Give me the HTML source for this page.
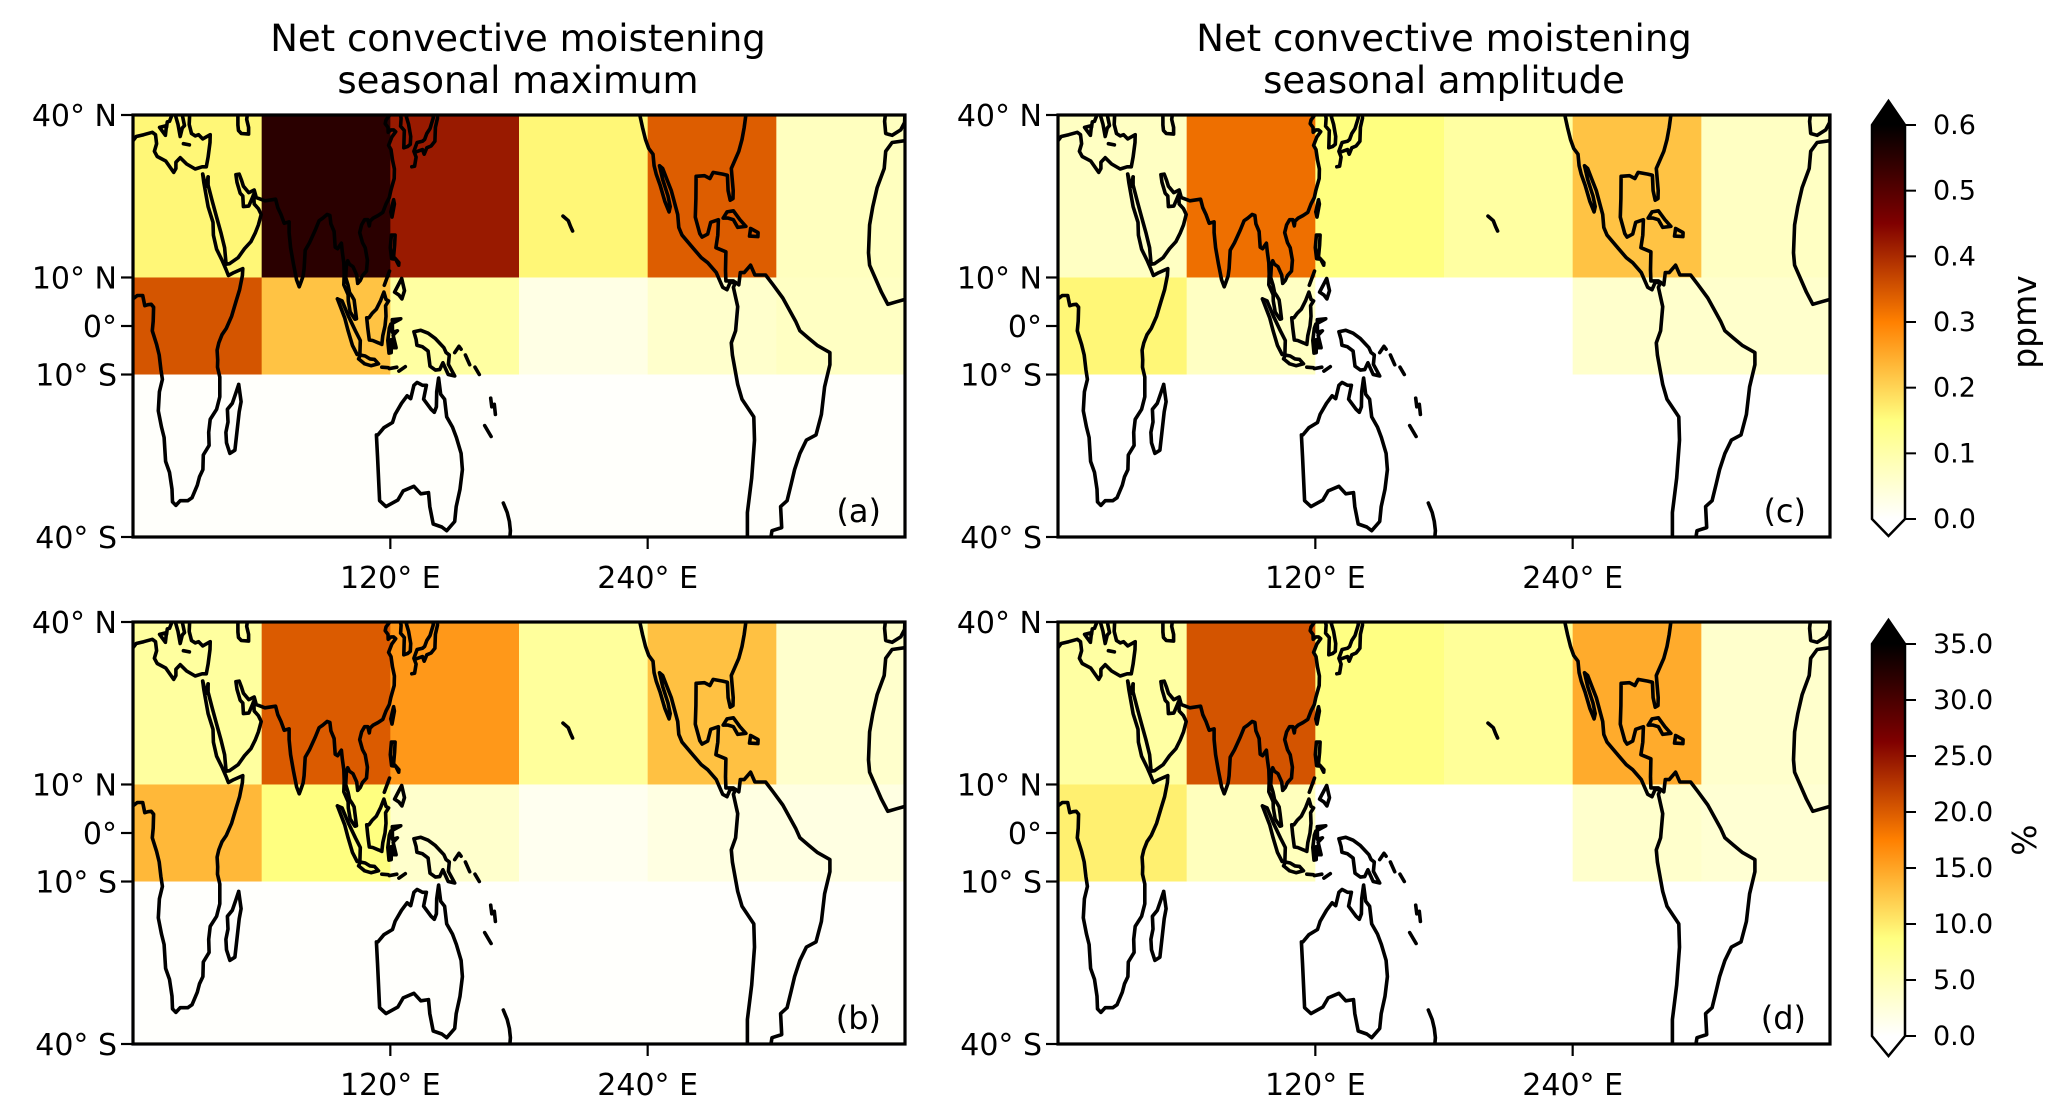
<!DOCTYPE html>
<html><head><meta charset="utf-8">
<style>
html,body{margin:0;padding:0;background:#fff;}
svg{display:block;}
text{font-family:"DejaVu Sans","Liberation Sans",sans-serif;fill:#000;}
</style></head>
<body>
<svg id="fig" width="2068" height="1119" viewBox="0 0 2068 1119" xmlns="http://www.w3.org/2000/svg">
<defs id="defs"></defs>
</svg>
<script>
// ---- data ----
const lonEdges = [0, 60, 120, 180, 240, 300, 360];
const latEdges = [40, 10, -10, -40];
const valuesA = [
  [0.16, 0.55, 0.42, 0.16, 0.34, 0.075],
  [0.35, 0.22, 0.11, 0.03, 0.06, 0.07],
  [0.005, 0.005, 0.005, 0.005, 0.005, 0.005]
];
const valuesC = [
  [0.07, 0.32, 0.15, 0.11, 0.22, 0.07],
  [0.16, 0.07, 0.0, 0.0, 0.06, 0.06],
  [0.0, 0.0, 0.0, 0.0, 0.0, 0.0]
];
const valuesB = [
  [6.6, 20, 15.8, 6.8, 13, 3.5],
  [13.6, 8.7, 3.5, 1, 2, 2],
  [0.2, 0.2, 0.2, 0.2, 0.2, 0.2]
];
const valuesD = [
  [6.3, 20.5, 8.5, 7.0, 14.5, 3.5],
  [9.8, 4.5, 0, 0, 3.5, 3],
  [0, 0, 0, 0, 0, 0]
];
const yTickLats = [40, 10, 0, -10, -40];
const yTickLabels = ["40° N", "10° N", "0°", "10° S", "40° S"];
const xTickLons = [120, 240];
const xTickLabels = ["120° E", "240° E"];
const cbTopTicks = [0, 0.1, 0.2, 0.3, 0.4, 0.5, 0.6];
const cbTopLabels = ["0.0", "0.1", "0.2", "0.3", "0.4", "0.5", "0.6"];
const cbBotTicks = [0, 5, 10, 15, 20, 25, 30, 35];
const cbBotLabels = ["0.0", "5.0", "10.0", "15.0", "20.0", "25.0", "30.0", "35.0"];

const coasts = [
 [[0,35.8],[1.5,36.5],[5,36.8],[9,37.2],[10.5,36.8],[11,35.3],[10,34],[11.3,33.1],[15.3,32.3],[19,30.3],[20,31],[20,32.1],[22,32.9],[25,31.8],[29,30.9],[32.2,31.3],[34.2,31.3],[35,33],[35.9,35.5],[36,36.8],[32.5,36.1],[30.6,36.8],[29,36.6],[27.3,37],[26.2,38.5],[26.5,40.5]],
 [[32.5,30],[33,28.5],[35,24],[37.3,21],[37.5,18.5],[39,15.7],[41.5,13.5],[43.3,11.7],[44.5,10.4],[47,11],[51.2,11.8],[51,10.4],[49.7,7.5],[48,5],[46,2],[43.5,-0.5],[41.5,-1.8],[40,-3.5],[39.2,-5],[39.5,-7],[39.4,-8.5],[40.5,-10.5],[40.5,-14.5],[39,-17],[36,-19],[35.3,-21.5],[35.5,-24],[32.8,-25.8],[32.6,-28.5],[31,-29.8],[30,-31.3],[27.5,-33.5],[25.5,-34],[22,-34],[20,-34.8],[18.4,-34.2],[18.2,-32],[17,-29],[15.2,-27],[14.5,-22.5],[13.3,-20.5],[11.8,-17.3],[12.3,-13.5],[13.7,-11],[13,-9],[12.2,-6],[11,-3.8],[9,-1],[9.4,1],[9.6,3.9],[8.5,4.5],[7,4.4],[5.5,4.2],[4.5,6.3],[2,6.3],[0,5.6]],
 [[32.5,30],[33.5,28.5],[34.3,27.8],[35,29.5]],
 [[35,29.5],[35,28],[37,25],[39,22],[41,19],[42.7,16],[43.4,12.7],[45,12.8],[49,14],[52,15.8],[55,17.2],[57,18.9],[58.5,20.5],[59.8,22.5],[58.5,23.6],[56.5,24.5],[56.3,26.3],[55.5,25.5],[54,24.1],[51.5,24],[51.2,26],[50,26.5],[48.5,28.5],[48,29.9],[49.5,30],[50.5,29],[51.5,27.8],[54,26.6],[56.5,27.1],[57.5,25.7],[61.5,25.1],[66.5,25.4],[67.5,23.8],[69,22.5],[70.5,20.8],[72.8,21.1],[72.8,19],[73.5,16],[74.8,12.8],[76.3,9.5],[77.5,8.1],[78.2,8.9],[79.3,10.3],[79.8,11.8],[80.3,15.5],[82.3,17],[85,19.5],[86.8,21.3],[88.5,21.8],[90.5,22.5],[91.8,22.3],[92.3,20.7],[93.8,19.2],[94.3,16.1],[95.4,15.8],[97.2,16.9],[97.6,15.2],[98.3,13],[98.5,10.7],[98.3,8.5],[100.3,6.5],[100.4,5.2],[101.3,2.9],[103.5,1.4],[104.2,1.5],[103.5,4.1],[103.1,5.4],[102.1,6.2],[101,6.9],[100.3,8.4],[99.2,10],[99.5,12.5],[100.1,13.4],[100.9,12.7],[102.6,12.2],[104.3,10.5],[104.8,8.8],[106,9.4],[107,10.4],[108.9,11.3],[109.3,13.5],[108.3,16],[107,17],[105.7,19],[106.6,20.5],[108,21.5],[109.5,21.5],[110.2,20.3],[110.5,21.2],[112,21.8],[114.3,22.3],[116.5,22.9],[118,24.5],[119.5,25.7],[120.2,27],[121.8,29.2],[121.9,30.9],[121,32.5],[120.3,34.3],[119.2,35],[120.7,36.4],[122.5,37.3],[121.5,37.6],[120.3,37.6],[119,37.2],[118.9,38],[117.6,38.6],[118,39.2],[119.5,39.9],[120.5,40.5]],
 [[48.9,40.5],[48.9,38.4],[49.2,37.5],[50.5,37],[53.9,36.9],[53.9,38],[53,39.3],[53.5,40.5]],
 [[12.4,38],[15.6,38.3],[15.1,36.7],[12.4,38]],
 [[15.6,38],[16,38.9],[17,39],[18.5,40.3]],
 [[19.5,40.3],[21,38.5],[22,36.5],[23,37.9],[24,38.3],[22.8,40.3]],
 [[23.5,35.3],[26.3,35.1]],
 [[124.5,40.3],[125,39.5],[124.8,38.2],[126.5,37.5],[126.3,34.6],[128,34.8],[129.3,35.2],[129.5,36.5],[128.5,38.5],[127.5,39.7],[128.5,40.5]],
 [[130,31.3],[131.3,31.4],[132,33],[131,34],[132.5,35.5],[135,35.7],[136,36],[137,37],[138.5,37.8],[140,39.5],[140,40.5]],
 [[131.9,33.9],[135,34.3],[135.8,33.5],[137,34.6],[139,34.9],[140.8,35.7],[141,38],[142,39.5],[141.8,40.5]],
 [[120.2,23],[120.8,22],[121.9,24.5],[121.5,25.3],[120.2,23]],
 [[120.5,18.5],[122.2,18.5],[122,16.5],[121.5,14.2],[124,13],[123.9,12.5],[122.5,13.7],[120.6,13.8],[120,16],[120.5,18.5]],
 [[122,7],[125.3,9.8],[126.6,7.3],[125.4,5.6],[124,6.4],[122,7]],
 [[117.2,8.4],[119.6,11.3]],
 [[109,1.7],[110,1.7],[111.5,2.6],[113.5,3.5],[115.5,5.3],[117,7],[118,5.5],[119.2,5.2],[117.8,4.2],[118,2],[117.5,0],[116.5,-2],[116,-3.8],[114.5,-3.5],[111.8,-3],[110.2,-2.9],[109.5,-0.5],[109,1.7]],
 [[95.3,5.6],[97.5,5.2],[100.5,2],[103.7,-1],[106,-3],[105.8,-5.8],[104.5,-5.9],[102.3,-4],[100.3,-1],[98.7,1.7],[95.3,5.6]],
 [[105.2,-6.8],[106,-6],[108.3,-6.2],[110.5,-6.8],[112.6,-6.9],[114.5,-7.8],[111,-8.2],[108,-7.8],[105.2,-6.8]],
 [[116,-8.5],[119,-8.6]],[[119.5,-8.8],[123,-8.5]],[[124,-9.3],[127,-8.4]],
 [[119.4,-5.6],[120.4,-5.5],[120.5,-2.8],[121.5,-4.5],[122.7,-4.5],[121.3,-1.9],[123.3,-1],[121,-1.3],[120.9,1.3],[124.9,1.5],[120.2,0.4],[119.5,-0.5],[118.8,-3],[119.4,-5.6]],
 [[131,-1.2],[134.2,-0.9],[137.6,-1.5],[141,-2.6],[145,-4.5],[146,-5.5],[147.5,-6],[147.1,-7.9],[150,-10.3],[147,-10],[144.5,-7.6],[143,-9],[141,-9.1],[138.5,-8.3],[137.6,-5.2],[135,-4.3],[132.4,-4],[132,-2.8],[131,-1.2]],
 [[150,-5.5],[152,-4.2],[153,-4.8]],[[155,-6],[157,-8]],[[159.5,-8.5],[161.5,-10]],
 [[113.5,-22],[114,-26],[115,-34],[118,-35],[123.5,-33.9],[126,-32.3],[131,-31.5],[134.2,-32.8],[137.8,-32.6],[138.4,-35],[140,-37.9],[144,-38.4],[146.3,-39],[150,-37.5],[150.7,-35],[152.5,-32],[153.6,-28.5],[153,-25.5],[150.8,-22.5],[149,-20.5],[146.3,-18.5],[145.3,-15],[143.5,-14],[142.5,-10.7],[141.6,-13.5],[141.5,-16.5],[140.5,-17.6],[139,-17],[135.5,-15],[136.8,-12.2],[135,-12.2],[132.5,-11.6],[131,-12.2],[129.5,-14.9],[127.8,-14.3],[125.2,-15.8],[122.2,-18],[121,-19.6],[117,-20.6],[114.2,-22],[113.5,-22]],
 [[166.8,-14.8],[167.3,-16.5]],[[168.5,-16],[169,-18]],[[164,-20.2],[167,-22.3]],
 [[172.7,-34.4],[174.5,-36],[175.5,-37.5],[176,-39],[175.5,-41]],
 [[49.3,-12],[50.4,-15.5],[49.5,-17.5],[47.5,-24.9],[45.2,-25.5],[43.6,-23.5],[43.3,-21.5],[44.3,-19.5],[44,-17],[46.3,-15.8],[48,-13.7],[49.3,-12]],
 [[200.5,22.2],[203,21.3],[204,20.2],[205,19.3]],
 [[236,40.5],[237.6,38],[239,36],[240.5,34.5],[242.5,33.5],[243,31.5],[244,30],[245.8,28],[248,25],[250,23],[250.5,24],[249.5,26],[247,29],[245.5,31.5],[247,31],[249,29],[251,27],[254,22.5],[254.5,20],[256,18.5],[261,16],[265,14],[268,13],[272,11],[275,8],[277,7.5],[278.5,9],[281,9],[280,8],[282,4],[281,-1],[279,-3.5],[279.5,-6],[282,-12],[284,-15],[289.5,-18.5],[289.8,-23],[288.5,-30],[286.5,-36],[286.5,-41]],
 [[286,40.5],[285,38],[284,36],[282.5,34],[279,31],[279.9,27],[279.8,25.5],[278.5,25.2],[277.5,27],[277.2,29.8],[275,30],[270.5,30.3],[269,29.2],[266.5,29.7],[262.6,29.6],[262.5,25.5],[262.2,22],[264.3,18.8],[265.4,18.1],[268,18.7],[269.4,21],[273,21.5],[272.7,18.5],[271.8,16],[276.5,15.2],[276.3,11.5],[276.5,9.3],[280,9.3],[282.5,8.5],[283.2,11],[285,11],[288,12.5],[290,10.5],[295,10.5],[298.5,8.5],[303,5.8],[309,1],[311,-1],[315,-2.5],[319,-4],[325,-5.5],[325,-8],[322.5,-12.5],[321,-18],[318.5,-22],[314,-23],[311,-25.5],[308.5,-28.5],[307,-31],[305,-34],[302,-35],[302.5,-38.5],[298,-39],[297,-41]],
 [[275.2,21.8],[277,23],[280,23.2],[283,21.5],[285.8,20.2],[282,20],[280,21.5],[277.5,21.8],[275.2,21.8]],
 [[287.5,18.3],[288,19.8],[291.5,19],[291.4,18.2],[287.5,18.3]],
 [[360,5.5],[356,5],[352,4.5],[349,7],[346,10],[343.5,12.5],[343,15],[343.5,20.5],[345,24],[347,27.5],[350.3,31],[351,34],[354,35.5],[360,35.8]],
 [[351,40.5],[350.5,39],[351,37],[354,36.7],[358,37.6],[359.8,38.8],[360,40.5]]
];

const panels = [
  {id:'a', left:133, top:115, vals:valuesA, vmax:0.6, label:'(a)'},
  {id:'c', left:1058, top:115, vals:valuesC, vmax:0.6, label:'(c)'},
  {id:'b', left:133, top:622, vals:valuesB, vmax:35, label:'(b)'},
  {id:'d', left:1058, top:622, vals:valuesD, vmax:35, label:'(d)'}
];
const PW = 772, PH = 422;
const NS = 'http://www.w3.org/2000/svg';
const svg = document.getElementById('fig');
const defs = document.getElementById('defs');
function mk(tag, attrs, parent){const e=document.createElementNS(NS,tag);for(const k in attrs)e.setAttribute(k,attrs[k]);(parent||svg).appendChild(e);return e;}
function merc(lat){return Math.log(Math.tan(Math.PI/4+lat*Math.PI/360));}
const MMAX = merc(40);
function xScale(p,lon){return p.left + lon*PW/360;}
function yScale(p,lat){return p.top + PH/2 - merc(lat)*(PH/2)/MMAX;}
function cmap(t){
  t=Math.max(0,Math.min(1,t)); const x=1-t;
  const c=v=>Math.round(255*Math.max(0,Math.min(1,v)));
  return 'rgb('+c(2*x)+','+c(2*x-0.5)+','+c(2*x-1)+')';
}

panels.forEach(p=>{
  const g = mk('g',{});
  
  
  const cp = mk('clipPath',{id:'clip'+p.id},defs);
  mk('rect',{x:p.left,y:p.top,width:PW,height:PH},cp);
  const cells = mk('g',{'clip-path':'url(#clip'+p.id+')'},g);
  for(let r=0;r<3;r++){for(let c=0;c<6;c++){
    const x0=xScale(p,lonEdges[c]), x1=xScale(p,lonEdges[c+1]);
    const y0=yScale(p,latEdges[r]), y1=yScale(p,latEdges[r+1]);
    const rc = mk('rect',{x:x0,y:y0,width:x1-x0+0.5,height:y1-y0+0.5,fill:cmap(p.vals[r][c]/p.vmax)},cells);
    
    
  }}
  const cg = mk('g',{'clip-path':'url(#clip'+p.id+')',fill:'none',stroke:'#000','stroke-width':3.6,'stroke-linejoin':'round','stroke-linecap':'round'},g);
  
  
  coasts.forEach(line=>{
    const d=line.map((pt,i)=>(i?'L':'M')+xScale(p,pt[0]).toFixed(1)+' '+yScale(p,pt[1]).toFixed(1)).join('');
    mk('path',{d:d},cg);
  });
  const fr = mk('rect',{x:p.left,y:p.top,width:PW,height:PH,fill:'none',stroke:'#000','stroke-width':3.2},g);
  
  
  yTickLats.forEach((lat,i)=>{
    const y=yScale(p,lat);
    mk('line',{x1:p.left-12,x2:p.left,y1:y,y2:y,stroke:'#000','stroke-width':2.2},g);
    const t=mk('text',{x:p.left-16,y:y+11,'text-anchor':'end','font-size':30},g);
    t.textContent=yTickLabels[i];
    
    
  });
  xTickLons.forEach((lon,i)=>{
    const x=xScale(p,lon);
    mk('line',{x1:x,x2:x,y1:p.top+PH,y2:p.top+PH+12,stroke:'#000','stroke-width':2.2},g);
    const t=mk('text',{x:x,y:p.top+PH+51,'text-anchor':'middle','font-size':30},g);
    t.textContent=xTickLabels[i];
    
    
  });
  const pl=mk('text',{x:p.left+PW-24,y:p.top+PH-15,'text-anchor':'end','font-size':32},g);
  pl.textContent=p.label;
  
  
});

[[518,'seasonal maximum'],[1444,'seasonal amplitude']].forEach(tt=>{
  const t=mk('text',{x:tt[0],y:51,'text-anchor':'middle','font-size':37});
  t.textContent='Net convective moistening';
  
  
  const t2=mk('text',{x:tt[0],y:93,'text-anchor':'middle','font-size':37});
  t2.textContent=tt[1];
  
  
});

function colorbar(id, top, bot, tipTop, tipBot, ticks, labels, vmax, unit){
  const g=mk('g',{});
  
  
  const lg=mk('linearGradient',{id:'grad'+id,x1:0,y1:1,x2:0,y2:0},defs);
  for(let i=0;i<=20;i++){mk('stop',{offset:i/20,'stop-color':cmap(i/20)},lg);}
  const L=1872,R=1905,M=(L+R)/2;
  mk('rect',{x:L,y:top,width:R-L,height:bot-top,fill:'url(#grad'+id+')'},g);
  mk('path',{d:`M${L} ${top}L${M} ${tipTop}L${R} ${top}Z`,fill:'#000'},g);
  mk('path',{d:`M${L} ${bot}L${M} ${tipBot}L${R} ${bot}Z`,fill:'#fff'},g);
  mk('path',{d:`M${L} ${top}L${M} ${tipTop}L${R} ${top}L${R} ${bot}L${M} ${tipBot}L${L} ${bot}Z`,fill:'none',stroke:'#000','stroke-width':2.5},g);
  ticks.forEach((v,i)=>{
    const y=bot-(v/vmax)*(bot-top);
    mk('line',{x1:R,x2:R+11,y1:y,y2:y,stroke:'#000','stroke-width':2},g);
    const t=mk('text',{x:R+28,y:y+9,'font-size':27},g);
    t.textContent=labels[i];
    
    
  });
  const cy=(top+bot)/2;
  const ul=mk('text',{x:2036,y:cy,'text-anchor':'middle','font-size':33,transform:`rotate(-90 2036 ${cy})`},g);
  ul.textContent=unit;
  
  
}
colorbar('ppmv',125,519,101,536,cbTopTicks,cbTopLabels,0.6,'ppmv');
colorbar('pct',644,1036,620,1056,cbBotTicks,cbBotLabels,35,'%');
</script>
</body></html>
